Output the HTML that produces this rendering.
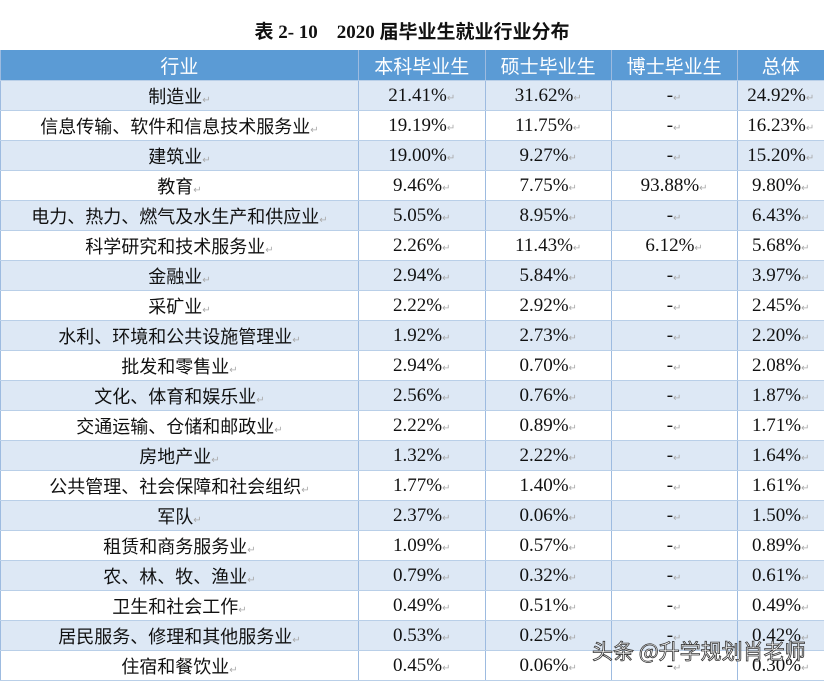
<!DOCTYPE html>
<html><head><meta charset="utf-8">
<style>
body{margin:0;width:824px;height:682px;overflow:hidden;background:#fff;font-family:"Liberation Serif","Noto Sans CJK SC",serif;position:relative}
#title{position:absolute;left:0;top:17px;width:824px;text-align:center;font-size:19px;font-weight:bold;color:#111;font-family:"Liberation Serif","Noto Sans CJK SC",serif}
table{position:absolute;left:0;top:50px;border-collapse:collapse;table-layout:fixed}
td,th{height:29px;padding:0;text-align:center;font-size:18px;color:#111;border-left:1px solid #9dbbe0;border-bottom:1px solid #b9cfe8;font-weight:normal;white-space:nowrap;overflow:hidden}
th{background:#5b9bd5;color:#fff;font-family:"Liberation Sans","Noto Sans CJK SC",sans-serif;font-size:19px;height:30px}
td.n{font-family:"Liberation Serif","Noto Serif CJK SC",serif;font-size:19px}
tr.a td{background:#dde8f5}
.m{color:#aaa;font-size:10px}
#wm{position:absolute;left:592px;top:636px;font-size:21px;color:#fff;font-family:"Noto Sans CJK SC",sans-serif;-webkit-text-stroke:0.8px #333}
</style></head><body>
<div id="title">表 2- 10　2020 届毕业生就业行业分布</div>
<table>
<colgroup><col style="width:358px"><col style="width:127px"><col style="width:126px"><col style="width:126px"><col style="width:87px"></colgroup>
<thead><tr><th>行业</th><th>本科毕业生</th><th>硕士毕业生</th><th>博士毕业生</th><th>总体</th></tr></thead>
<tbody id="tb"></tbody></table>
<div id="wm">头条 @升学规划肖老师</div>
<script>
const industries=["制造业","信息传输、软件和信息技术服务业","建筑业","教育","电力、热力、燃气及水生产和供应业","科学研究和技术服务业","金融业","采矿业","水利、环境和公共设施管理业","批发和零售业","文化、体育和娱乐业","交通运输、仓储和邮政业","房地产业","公共管理、社会保障和社会组织","军队","租赁和商务服务业","农、林、牧、渔业","卫生和社会工作","居民服务、修理和其他服务业","住宿和餐饮业"];
const bachelor=["21.41%","19.19%","19.00%","9.46%","5.05%","2.26%","2.94%","2.22%","1.92%","2.94%","2.56%","2.22%","1.32%","1.77%","2.37%","1.09%","0.79%","0.49%","0.53%","0.45%"];
const master=["31.62%","11.75%","9.27%","7.75%","8.95%","11.43%","5.84%","2.92%","2.73%","0.70%","0.76%","0.89%","2.22%","1.40%","0.06%","0.57%","0.32%","0.51%","0.25%","0.06%"];
const doctor=["-","-","-","93.88%","-","6.12%","-","-","-","-","-","-","-","-","-","-","-","-","-","-"];
const overall=["24.92%","16.23%","15.20%","9.80%","6.43%","5.68%","3.97%","2.45%","2.20%","2.08%","1.87%","1.71%","1.64%","1.61%","1.50%","0.89%","0.61%","0.49%","0.42%","0.30%"];
const tb=document.getElementById('tb');
industries.forEach((ind,i)=>{
  const tr=document.createElement('tr');
  
  
  if(i%2===0)tr.className='a';
  [ind,bachelor[i],master[i],doctor[i],overall[i]].forEach((v,j)=>{
    const td=document.createElement('td');
    
    
    if(j>0)td.className='n';
    td.innerHTML=v+'<span class="m">↵</span>';
    tr.appendChild(td);
  });
  tb.appendChild(tr);
});
</script>
</body></html>
